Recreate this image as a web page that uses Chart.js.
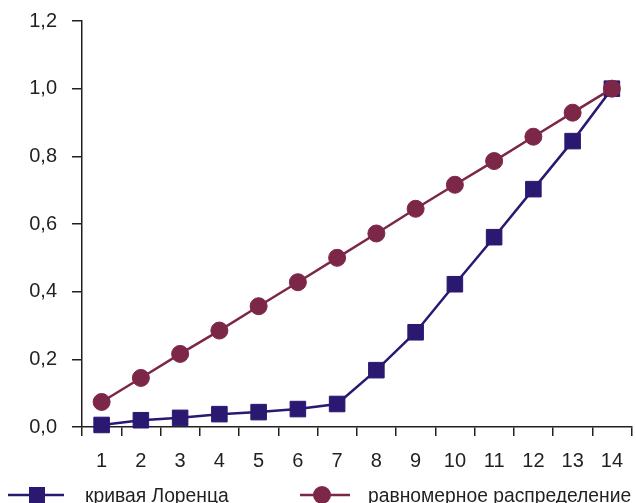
<!DOCTYPE html>
<html><head><meta charset="utf-8">
<script src="https://cdn.jsdelivr.net/npm/chart.js@4/dist/chart.umd.min.js"></script>
<style>
html,body{margin:0;padding:0;background:#fff;overflow:hidden}
#wrap{position:relative;width:636px;height:503px}
canvas{position:absolute;left:0;top:0}
.lg{position:absolute;font-family:"Liberation Sans",Arial,sans-serif;font-size:19.3px;line-height:20px;color:#231f20;white-space:nowrap}
svg{position:absolute}
</style></head><body>
<div id="wrap">
<canvas id="c" width="636" height="503"></canvas>
<svg style="left:0;top:480px" width="80" height="30"><line x1="8" y1="15" x2="64" y2="15" stroke="#2a1871" stroke-width="2.5"/><rect x="29" y="7" width="16" height="16" fill="#2a1871"/></svg>
<div class="lg" style="left:85px;top:486px">кривая Лоренца</div>
<svg style="left:290px;top:480px" width="70" height="30"><line x1="10" y1="15" x2="60" y2="15" stroke="#7d2748" stroke-width="2.5"/><circle cx="32" cy="15" r="9" fill="#7d2748"/></svg>
<div class="lg" style="left:368px;top:486px">равномерное распределение</div>
</div>
<script>
const categories = ["1","2","3","4","5","6","7","8","9","10","11","12","13","14"];
const lorenz = [0.006,0.02,0.027,0.038,0.044,0.053,0.068,0.168,0.28,0.422,0.561,0.703,0.845,1.0];
const uniform = [0.074,0.145,0.216,0.285,0.357,0.428,0.5,0.572,0.645,0.716,0.786,0.858,0.929,1.0];
const yTicks = [0,0.2,0.4,0.6,0.8,1.0,1.2];

const font = {family:"'Liberation Sans', Arial, sans-serif", size:20};
new Chart(document.getElementById('c'), {
  type:'line',
  data:{labels:categories, datasets:[
    {label:'равномерное распределение', data:uniform, borderColor:'#7d2748', backgroundColor:'#7d2748',
     borderWidth:2.5, pointStyle:'circle', pointRadius:8.5, pointBorderWidth:1, pointBorderColor:'#7d2748', tension:0, clip:false},
    {label:'кривая Лоренца', data:lorenz, borderColor:'#2a1871', backgroundColor:'#2a1871',
     borderWidth:2.5, pointStyle:'rect', pointRadius:11, pointBorderWidth:1, pointBorderColor:'#2a1871', tension:0, clip:false}
  ]},
  options:{
    responsive:false, animation:false,
    layout:{autoPadding:false, padding:{top:21,right:0,left:0,bottom:0}},
    plugins:{legend:{display:false}, tooltip:{enabled:false}},
    scales:{
      x:{offset:true,
        grid:{offset:true, drawOnChartArea:false, tickLength:9, color:'#231f20', lineWidth:1.5},
        border:{color:'#231f20', width:1.5},
        ticks:{font:font, color:'#231f20', padding:13, maxRotation:0},
        afterFit(s){s.height=76;}
      },
      y:{min:0,max:1.2,
        afterBuildTicks(s){s.ticks=yTicks.map(v=>({value:v}));},
        grid:{drawOnChartArea:false, tickLength:10, color:'#231f20', lineWidth:1.5},
        border:{color:'#231f20', width:1.5},
        ticks:{font:font, color:'#231f20', padding:15, callback:v=>v.toFixed(1).replace('.',',')},
        afterFit(s){s.width=82; s.paddingTop=0; s.paddingBottom=0;}
      }
    }
  }
});
</script>
</body></html>
